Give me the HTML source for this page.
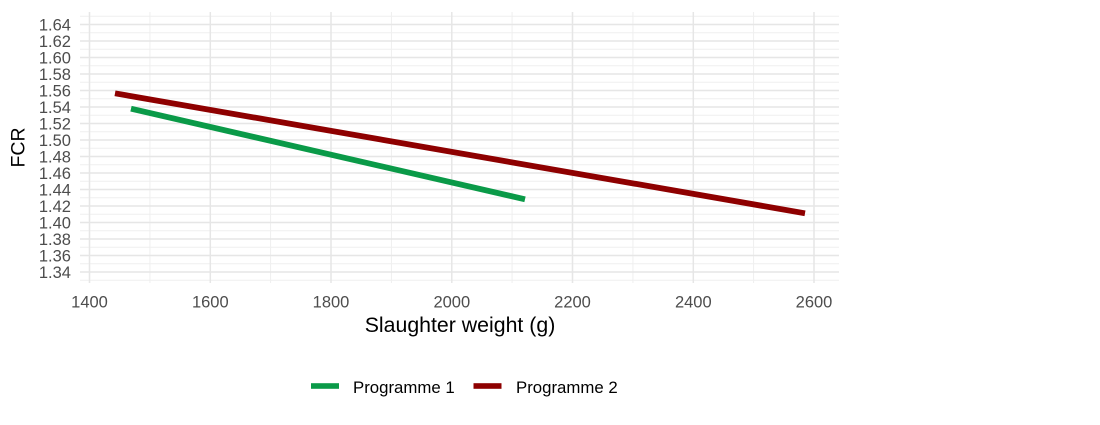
<!DOCTYPE html>
<html>
<head>
<meta charset="utf-8">
<style>
  html, body { margin: 0; padding: 0; background: #ffffff; }
  svg { display: block; }
  text { font-family: "Liberation Sans", Arial, sans-serif; }
</style>
</head>
<body>
<svg width="1100" height="425" viewBox="0 0 1100 425" xmlns="http://www.w3.org/2000/svg">
  <rect x="0" y="0" width="1100" height="425" fill="#ffffff"/>
  <!-- minor horizontal gridlines -->
  <g stroke="#efefef" stroke-width="1">
    <line x1="80" x2="839" y1="16.25" y2="16.25"/>
    <line x1="80" x2="839" y1="32.75" y2="32.75"/>
    <line x1="80" x2="839" y1="49.25" y2="49.25"/>
    <line x1="80" x2="839" y1="65.75" y2="65.75"/>
    <line x1="80" x2="839" y1="82.25" y2="82.25"/>
    <line x1="80" x2="839" y1="98.75" y2="98.75"/>
    <line x1="80" x2="839" y1="115.25" y2="115.25"/>
    <line x1="80" x2="839" y1="131.75" y2="131.75"/>
    <line x1="80" x2="839" y1="148.25" y2="148.25"/>
    <line x1="80" x2="839" y1="164.75" y2="164.75"/>
    <line x1="80" x2="839" y1="181.25" y2="181.25"/>
    <line x1="80" x2="839" y1="197.75" y2="197.75"/>
    <line x1="80" x2="839" y1="214.25" y2="214.25"/>
    <line x1="80" x2="839" y1="230.75" y2="230.75"/>
    <line x1="80" x2="839" y1="247.25" y2="247.25"/>
    <line x1="80" x2="839" y1="263.75" y2="263.75"/>
    <line x1="80" x2="839" y1="280.25" y2="280.25"/>
  </g>
  <!-- minor vertical gridlines -->
  <g stroke="#efefef" stroke-width="1">
    <line y1="12" y2="283" x1="149.9" x2="149.9"/>
    <line y1="12" y2="283" x1="270.6" x2="270.6"/>
    <line y1="12" y2="283" x1="391.4" x2="391.4"/>
    <line y1="12" y2="283" x1="512.1" x2="512.1"/>
    <line y1="12" y2="283" x1="632.9" x2="632.9"/>
    <line y1="12" y2="283" x1="753.6" x2="753.6"/>
  </g>
  <!-- major horizontal gridlines -->
  <g stroke="#e6e6e6" stroke-width="1.5">
    <line x1="80" x2="839" y1="24.5" y2="24.5"/>
    <line x1="80" x2="839" y1="41" y2="41"/>
    <line x1="80" x2="839" y1="57.5" y2="57.5"/>
    <line x1="80" x2="839" y1="74" y2="74"/>
    <line x1="80" x2="839" y1="90.5" y2="90.5"/>
    <line x1="80" x2="839" y1="107" y2="107"/>
    <line x1="80" x2="839" y1="123.5" y2="123.5"/>
    <line x1="80" x2="839" y1="140" y2="140"/>
    <line x1="80" x2="839" y1="156.5" y2="156.5"/>
    <line x1="80" x2="839" y1="173" y2="173"/>
    <line x1="80" x2="839" y1="189.5" y2="189.5"/>
    <line x1="80" x2="839" y1="206" y2="206"/>
    <line x1="80" x2="839" y1="222.5" y2="222.5"/>
    <line x1="80" x2="839" y1="239" y2="239"/>
    <line x1="80" x2="839" y1="255.5" y2="255.5"/>
    <line x1="80" x2="839" y1="272" y2="272"/>
  </g>
  <!-- major vertical gridlines -->
  <g stroke="#e6e6e6" stroke-width="1.5">
    <line y1="12" y2="283" x1="89.5" x2="89.5"/>
    <line y1="12" y2="283" x1="210.3" x2="210.3"/>
    <line y1="12" y2="283" x1="331" x2="331"/>
    <line y1="12" y2="283" x1="451.8" x2="451.8"/>
    <line y1="12" y2="283" x1="572.5" x2="572.5"/>
    <line y1="12" y2="283" x1="693.3" x2="693.3"/>
    <line y1="12" y2="283" x1="814" x2="814"/>
  </g>

  <!-- series -->
  <line x1="115" y1="93.3" x2="805" y2="213.3" stroke="#8e0000" stroke-width="5.8" stroke-linecap="butt"/>
  <line x1="131" y1="108.7" x2="525" y2="199.3" stroke="#0a9a48" stroke-width="5.8" stroke-linecap="butt"/>

  <!-- y tick labels -->
  <g fill="#4d4d4d" font-size="16.5" text-anchor="end">
    <text x="71" y="30.3">1.64</text>
    <text x="71" y="46.8">1.62</text>
    <text x="71" y="63.3">1.60</text>
    <text x="71" y="79.8">1.58</text>
    <text x="71" y="96.3">1.56</text>
    <text x="71" y="112.8">1.54</text>
    <text x="71" y="129.3">1.52</text>
    <text x="71" y="145.8">1.50</text>
    <text x="71" y="162.3">1.48</text>
    <text x="71" y="178.8">1.46</text>
    <text x="71" y="195.3">1.44</text>
    <text x="71" y="211.8">1.42</text>
    <text x="71" y="228.3">1.40</text>
    <text x="71" y="244.8">1.38</text>
    <text x="71" y="261.3">1.36</text>
    <text x="71" y="277.8">1.34</text>
  </g>

  <!-- x tick labels -->
  <g fill="#4d4d4d" font-size="16.5" text-anchor="middle">
    <text x="89.5" y="307.5">1400</text>
    <text x="210.3" y="307.5">1600</text>
    <text x="331" y="307.5">1800</text>
    <text x="451.8" y="307.5">2000</text>
    <text x="572.5" y="307.5">2200</text>
    <text x="693.3" y="307.5">2400</text>
    <text x="814" y="307.5">2600</text>
  </g>

  <!-- axis titles -->
  <text x="460" y="332" font-size="21.3" fill="#000" text-anchor="middle">Slaughter weight (g)</text>
  <text transform="translate(24.5,147.5) rotate(-90)" font-size="19.5" fill="#000" text-anchor="middle">FCR</text>

  <!-- legend -->
  <rect x="311" y="383.2" width="28" height="5.6" fill="#0a9a48"/>
  <text x="353" y="393" font-size="16.8" fill="#000">Programme 1</text>
  <rect x="473.5" y="383.2" width="28" height="5.6" fill="#8e0000"/>
  <text x="516" y="393" font-size="16.8" fill="#000">Programme 2</text>
</svg>
</body>
</html>
